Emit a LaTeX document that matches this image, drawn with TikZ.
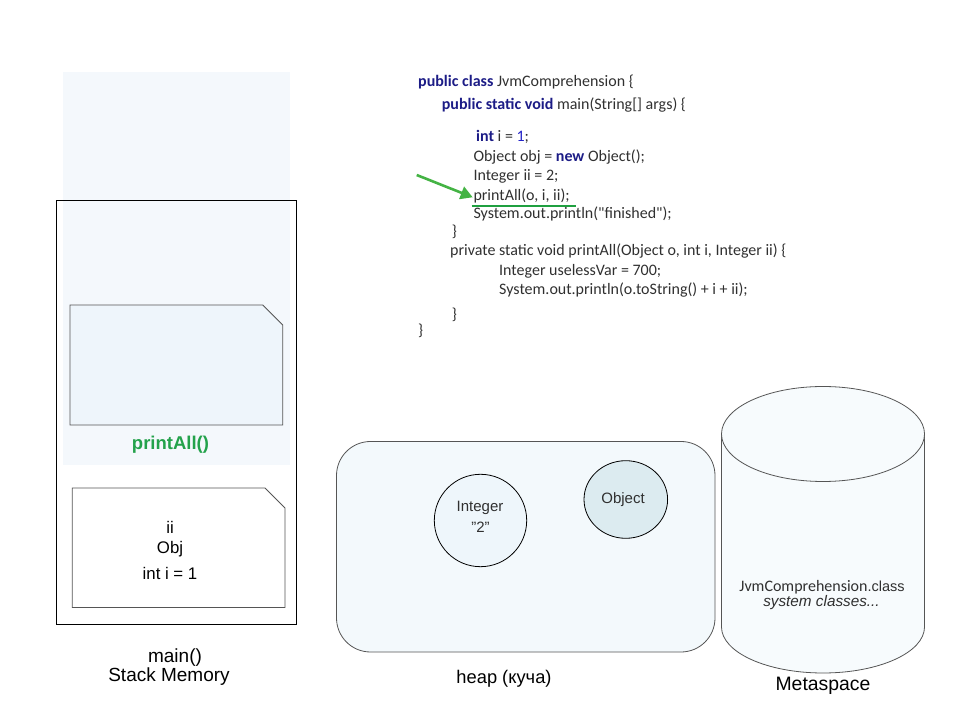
\documentclass[tikz,border=0pt]{standalone}
\usepackage{fontspec}
\setmainfont{Liberation Sans}
\newfontfamily\codefont{Carlito}
\usetikzlibrary{arrows.meta}
\definecolor{stackblue}{HTML}{F4F8FC}
\definecolor{cardblue}{HTML}{EEF5FB}
\definecolor{heapblue}{HTML}{F3F9FC}
\definecolor{cylblue}{HTML}{F7FBFD}
\definecolor{intblue}{HTML}{EEF6FB}
\definecolor{objblue}{HTML}{DCEBF0}
\definecolor{kwnavy}{HTML}{1C1C86}
\definecolor{numblue}{HTML}{2323C8}
\definecolor{codegray}{HTML}{303030}
\definecolor{arrowgreen}{HTML}{44B344}
\definecolor{linegreen}{HTML}{1FA040}
\definecolor{labelgreen}{HTML}{23A24B}
\definecolor{edgegray}{HTML}{555555}
\tikzset{
  codeline/.style={anchor=mid west, inner sep=0pt, font=\codefont\fontsize{16}{18}\selectfont, text=codegray},
  varlbl/.style={anchor=base, inner sep=0pt, font=\fontsize{16.8}{19}\selectfont},
  biglbl/.style={anchor=base, inner sep=0pt, font=\fontsize{19}{21}\selectfont},
  heaptxt/.style={inner sep=0pt, font=\fontsize{15}{17}\selectfont, text=codegray},
  card/.style={draw=edgegray, line width=0.8pt},
}
\newcommand{\kw}[1]{\textbf{\textcolor{kwnavy}{#1}}}
\begin{document}
\begin{tikzpicture}[x=1pt,y=1pt]
\useasboundingbox (0,0) rectangle (960,720);
% stack
\fill[stackblue] (63,254.5) rectangle (289.5,648);
\draw[black, line width=0.8pt] (56,96) rectangle (296,520);
\draw[card, fill=cardblue] (70,415) -- (262.7,415) -- (282.7,395) -- (282.7,295) -- (70,295) -- cycle;
\node[inner sep=0pt, text=labelgreen, font=\bfseries\fontsize{18.5}{20}\selectfont] (pa) at (170.5,275) {printAll()};
\draw[card, fill=white] (72.3,232) -- (265,232) -- (285,212) -- (285,112.5) -- (72.3,112.5) -- cycle;
\node[varlbl] (vii) at (170,186.7) {ii};
\node[varlbl] (vobj) at (170,166.7) {Obj};
\node[varlbl] (vint) at (170,141) {int i = 1};
\node[biglbl] (mainl) at (175,57.7) {main()};
\node[biglbl] (stackl) at (169,38.3) {Stack Memory};
% heap
\draw[edgegray, line width=0.8pt, fill=heapblue, rounded corners=34pt] (336.5,68) rectangle (715,278.5);
\draw[black, line width=0.8pt, fill=intblue] (480.5,199.5) circle[radius=46.2];
\node[heaptxt] (intt) at (480,211.7) {Integer};
\node[heaptxt] (two) at (480.5,192.5) {"2"};
\draw[black, line width=0.8pt, fill=objblue] (625.8,220.5) ellipse[x radius=41.8, y radius=38.8];
\node[heaptxt] (objt) at (623,220.7) {Object};
\node[anchor=base, inner sep=0pt, font=\fontsize{18.3}{20}\selectfont] (heapl) at (504,36.7) {heap (куча)};
% metaspace
\draw[edgegray, line width=0.8pt, fill=cylblue] (721.5,286) -- (721.5,93) arc[start angle=180, end angle=360, x radius=101.5, y radius=46] -- (924.5,286);
\draw[edgegray, line width=0.8pt, fill=cylblue] (823,286) ellipse[x radius=101.5, y radius=47.5];
\node[inner sep=0pt, text=codegray] (jvmc) at (822,132.7) {{\codefont\fontsize{16}{18}\selectfont JvmComprehension}{\fontsize{14.5}{17}\selectfont .class}};
\node[inner sep=0pt, text=codegray, font=\itshape\fontsize{15.3}{17}\selectfont] (sysc) at (821.5,117.3) {system classes...};
\node[anchor=base, inner sep=0pt, font=\fontsize{19.4}{21}\selectfont] (metal) at (823,30) {Metaspace};
% code
\node[codeline] (c1) at (418,636) {\kw{public class} JvmComprehension \{};
\node[codeline] (c2) at (441.7,613.3) {\kw{public static void} main(String[] args) \{};
\node[codeline] (c3) at (476,580.7) {\kw{int} i = \textcolor{numblue}{1};};
\node[codeline] (c4) at (473.3,561) {Object obj = \kw{new} Object();};
\node[codeline] (c5) at (473.3,541.7) {Integer ii = 2;};
\node[codeline] (c6) at (473.3,522.3) {printAll(o, i, ii);};
\node[codeline] (c7) at (473.3,504) {System.out.println("finished");};
\node[codeline] (c8) at (451.7,486) {\}};
\node[codeline] (c9) at (450,466.7) {private static void printAll(Object o, int i, Integer ii) \{};
\node[codeline] (c10) at (499,446.7) {Integer uselessVar = 700;};
\node[codeline] (c11) at (499,428.3) {System.out.println(o.toString() + i + ii);};
\node[codeline] (c12) at (451.7,403.3) {\}};
\node[codeline] (c13) at (418,387.3) {\}};
% pointer arrow and underline
\coordinate (atail) at (416.7,545);
\coordinate (ahead) at (472.7,522.7);
\draw[arrowgreen, line width=2.6pt, -{Triangle[length=12pt,width=13pt]}] (atail) -- (ahead);
\coordinate (ul1) at (471.7,514.3);
\coordinate (ul2) at (575.7,514.3);
\draw[linegreen, line width=2.2pt] (ul1) -- (ul2);
\end{tikzpicture}
\end{document}
